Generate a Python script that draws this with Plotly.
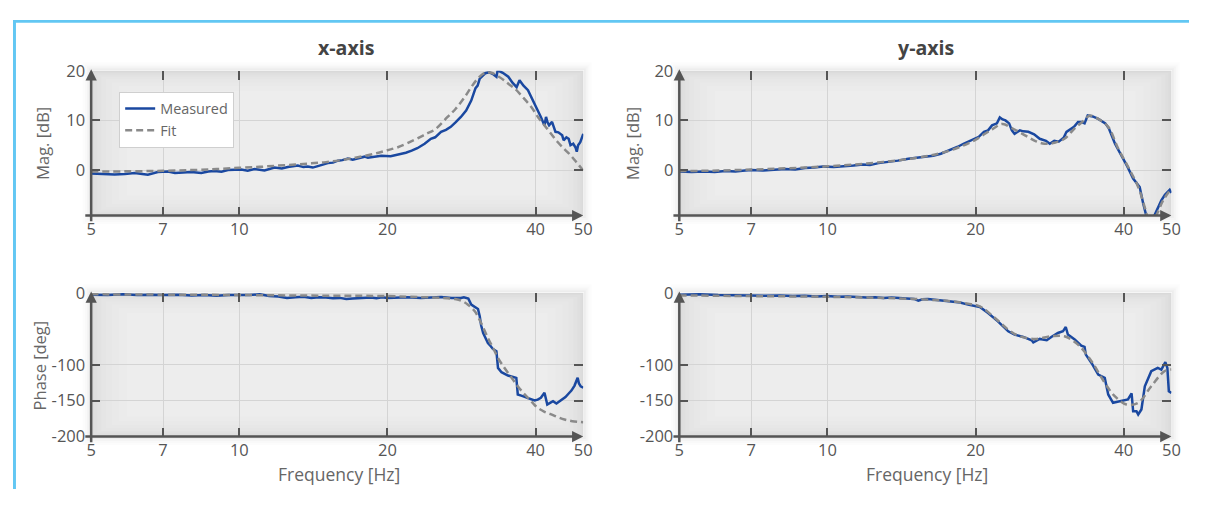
import plotly.graph_objects as go

# ------------------------------------------------------------------ data
FREQ_TICKS = [5, 7, 10, 20, 40, 50]
FREQ_TICK_TEXT = ["5", "7", "10", "20", "40", "50"]
MAG_TICKS = [0, 10, 20]
MAG_TICK_TEXT = ["0", "10", "20"]
PHASE_TICKS = [-200, -150, -100, 0]
PHASE_TICK_TEXT = ["-200", "-150", "-100", "0"]

# x-axis, magnitude [dB]
x_mag_meas_f = [5.0, 5.32, 5.58, 5.85, 6.13, 6.35, 6.52, 6.83, 7.16, 7.4, 7.62, 7.99, 8.37, 8.65,
                8.91, 9.2, 9.48, 10.09, 10.4, 10.74, 11.25, 11.79, 12.2, 12.55, 13.15, 13.5, 13.78,
                14.1, 14.44, 15.13, 15.5, 15.86, 16.2, 16.62, 17.0, 17.41, 17.97, 18.25, 18.54,
                19.0, 19.43, 20.3, 20.8, 21.3, 21.8, 22.4, 23.0, 23.8, 24.5, 25.0, 25.7, 26.3,
                26.9, 27.5, 28.2, 28.9, 29.6, 30.2, 30.5, 30.8, 31.6, 32.2, 32.7, 33.3, 33.5,
                34.3, 35.2, 35.9, 36.6, 37.1, 37.8, 38.6, 39.2, 39.8, 40.4, 41.0, 41.7, 42.0,
                42.3, 42.6, 43.2, 43.9, 44.5, 45.0, 45.3, 45.6, 46.2, 46.7, 47.1, 47.7, 48.2,
                48.5, 48.8, 49.3, 50.0]
x_mag_meas = [-0.7, -0.8, -0.9, -0.8, -0.6, -0.8, -0.95, -0.4, -0.3, -0.6, -0.5, -0.4, -0.6, -0.3,
              -0.2, -0.35, 0.0, 0.1, -0.15, 0.2, -0.1, 0.5, 0.3, 0.6, 0.9, 0.6, 0.7,
              0.5, 0.8, 1.4, 1.5, 1.9, 2.0, 2.3, 2.1, 2.4, 2.7, 2.5, 2.6,
              2.8, 2.9, 2.8, 3.0, 3.2, 3.5, 3.9, 4.4, 5.3, 6.3, 6.6, 7.7, 8.1,
              8.7, 9.6, 10.7, 12.0, 14.0, 16.5, 17.0, 18.4, 19.5, 19.7, 19.4, 18.8, 20.1,
              19.6, 18.8, 17.6, 16.7, 18.1, 17.0, 16.1, 14.8, 13.4, 12.0, 10.7, 9.0, 10.7,
              9.6, 9.0, 9.7, 7.7, 7.6, 7.2, 7.0, 6.0, 6.6, 6.3, 5.0, 5.3, 4.6,
              3.7, 5.0, 5.6, 7.3]
x_mag_fit_f = [5, 6, 7, 8, 9, 10, 11, 12, 13, 14, 15, 16, 17, 18, 19, 20, 21, 22.7, 24, 25, 26.5,
               27.5, 28.7, 29.6, 30.5, 31.2, 31.8, 32.5, 33.3, 34.5, 35.3, 36.3, 37.5, 39.2, 40.5,
               41.7, 43, 44.3, 45.7, 47.1, 48.5, 50]
x_mag_fit = [-0.3, -0.25, -0.15, 0.0, 0.2, 0.45, 0.65, 0.9, 1.1, 1.35, 1.6, 1.95, 2.4, 2.85, 3.4,
             4.0, 4.6, 6.1, 7.3, 8.2, 10.7, 12.3, 14.7, 16.7, 18.4, 19.3, 19.7, 19.6, 19.1, 18.1,
             17.3, 16.4, 14.9, 12.7, 10.6, 9.0, 7.3, 5.7, 4.3, 3.0, 1.5, -0.1]

# y-axis, magnitude [dB]
y_mag_meas_f = [5.0, 5.3, 5.6, 5.9, 6.2, 6.5, 6.8, 7.0, 7.4, 7.8, 8.2, 8.6, 9.0, 9.4, 9.8, 10.3,
                10.8, 11.3, 11.8, 12.2, 12.7, 13.3, 13.9, 14.6, 15.2, 15.8, 16.4, 17.0, 17.4,
                17.9, 18.4, 18.9, 19.3, 19.8, 20.3, 20.8, 21.2, 21.6, 22.1, 22.4, 22.7, 23.0,
                23.4, 23.7, 24.0, 24.6, 25.0, 25.6, 26.3, 27.0, 27.8, 28.3, 28.9, 29.5, 30.2,
                30.6, 31.7, 32.3, 32.8, 33.3, 33.8, 34.6, 35.5, 36.7, 37.3, 38.4, 39.6, 40.7,
                41.8, 43.1, 43.8, 44.5, 45.2, 46.2, 47.7, 48.5, 49.2, 49.6, 50.0]
y_mag_meas = [-0.3, -0.4, -0.3, -0.4, -0.2, -0.3, -0.1, 0.0, -0.1, 0.1, 0.2, 0.1, 0.4, 0.5, 0.7, 0.6,
              0.7, 0.9, 1.1, 1.0, 1.4, 1.6, 1.9, 2.3, 2.5, 2.6, 2.9, 3.3, 3.7,
              4.1, 4.7, 5.3, 5.7, 6.1, 6.7, 7.7, 8.0, 9.0, 9.4, 10.6, 10.2, 10.0,
              9.4, 8.0, 7.3, 8.0, 7.8, 7.7, 7.2, 6.3, 5.9, 5.3, 5.9, 5.7, 6.5,
              7.7, 8.7, 9.7, 9.7, 9.4, 11.0, 10.8, 10.3, 9.4, 8.4, 5.3, 3.0, 0.7,
              -1.7, -3.4, -6.7, -9.1, -12.0, -9.1, -6.1, -5.0, -4.4, -4.0, -4.6]
y_mag_fit_f = [5, 6, 7, 8, 9, 10, 11, 12, 13, 14, 15, 16, 17, 18.4, 19.9, 21.6, 22.7, 23.65, 25.2,
               26.4, 27.6, 28.95, 30.3, 31.8, 33.3, 34.1, 35.5, 37.2, 38.95, 40.8, 42.8, 44.1,
               44.8, 45.3, 46.6, 48.1, 50]
y_mag_fit = [-0.2, -0.1, 0.1, 0.3, 0.5, 0.75, 1.0, 1.3, 1.65, 2.0, 2.4, 2.85, 3.4, 4.5, 6.0, 8.2,
             9.3, 8.5, 7.0, 5.9, 5.3, 5.5, 6.3, 8.4, 10.1, 11.0, 10.3, 8.7, 4.4, 0.7, -3.4, -7.4,
             -9.8, -11.0, -9.1, -6.1, -3.7]

# x-axis, phase [deg]
x_ph_meas_f = [5.0, 5.4, 5.8, 6.2, 6.6, 7.0, 7.5, 8.0, 8.5, 9.0, 9.5, 10.0, 10.5, 11.0, 11.5, 12.0,
               12.5, 13.0, 13.5, 14.0, 14.5, 15.0, 15.5, 16.0, 16.5, 17.0, 17.5, 18.0, 18.5, 19.0,
               19.5, 20.0, 21.0, 22.0, 23.4, 24.5, 25.7, 27.0, 28.2, 28.6, 29.2, 29.6, 30.2,
               30.55, 30.8, 31.0, 31.3, 31.6, 32.0, 32.4, 32.75, 33.3, 33.4, 33.55, 34.1, 35.15,
               36.0, 36.55, 36.7, 36.8, 37.4, 38.0, 38.9, 39.8, 40.4, 41.0, 41.7, 42.0, 42.25,
               42.8, 43.4, 44.1, 44.7, 45.4, 46.0, 46.7, 47.3, 48.0, 48.3, 48.7, 49.0, 49.4, 50.0]
x_ph_meas = [-2.5, -3, -2, -3, -2.5, -3, -2.5, -3.5, -3, -4, -3, -3.5, -3, -2, -4.5, -5,
             -7, -6, -5.5, -7, -6, -6.5, -7.5, -7, -8.5, -8, -7.5, -7, -6.5, -7.5,
             -6, -7, -6.5, -6, -7.2, -6.5, -5.8, -7, -7.2, -6.2, -8, -16.4, -20,
             -22.5, -32.6, -45, -55.8, -63, -69.7, -74, -78, -81.3, -95, -104.4, -110.4, -115,
             -117, -118.3, -132, -141.4, -143, -144.7, -147, -149.8, -148.5, -146, -139, -148, -155.3,
             -153, -150.7, -154, -151, -148, -145, -140, -136, -129, -125, -118, -126, -130, -132]
x_ph_fit_f = [5, 7, 10, 15, 20, 23.4, 26, 27.4, 28.3, 29.15, 30.1, 31.0, 32.0, 32.8, 33.55, 34.3,
              35.15, 36.0, 36.8, 37.7, 38.6, 39.5, 40.4, 41.7, 43.05, 44.4, 45.8, 47.5, 50]
x_ph_fit = [-2, -2.5, -3, -4, -4.5, -6, -7, -8.6, -11, -16.4, -25.7, -41.9, -62.7, -77, -90.5, -101,
            -111.3, -121, -129.9, -138.5, -146, -153.5, -160, -165.5, -169.2, -173, -176.2, -178.5,
            -179.9]

# y-axis, phase [deg]
y_ph_meas_f = [5.0, 5.5, 6.0, 6.5, 7.0, 7.5, 8.0, 8.5, 9.0, 9.5, 10.0, 10.5, 11.0, 11.5, 12.0, 12.5,
               13.0, 13.5, 14.0, 14.5, 15.0, 15.3, 15.6, 16.0, 16.5, 17.0, 17.5, 17.9, 18.6, 19.3,
               20.4, 21.2, 22.2, 23.3, 24.0, 25.0, 26.0, 26.2, 27.0, 27.9, 28.5, 29.4, 30.1, 30.5,
               30.8, 31.8, 32.8, 33.3, 33.5, 34.4, 35.5, 36.6, 37.2, 38.05, 39.6, 40.8, 41.5, 41.8,
               42.45, 42.8, 43.45, 44.15, 45.5, 46.9, 47.7, 48.6, 49.06, 49.4, 50.0]
y_ph_meas = [-2.5, -2, -3, -3.5, -3, -4, -3.5, -4.5, -4, -5, -4.5, -5.5, -5, -6, -6.5, -6,
             -7, -6.5, -7.5, -8, -8.5, -11, -9, -8.5, -9.5, -10, -11, -11.8, -13.5, -16.4,
             -19.7, -28, -39.6, -53.5, -58.1, -61.3, -66, -68.8, -64.1, -66, -61.3, -55.8, -53.5, -47.5,
             -58.1, -65, -73.4, -75.2, -85.9, -97.5, -113.7, -118.3, -141.4, -153, -150.7, -148.4, -140,
             -164.6, -164.6, -169.2, -162.3, -129.9, -109, -104.4, -106.7, -96.5, -104.4, -136.8, -139.1]
y_ph_fit_f = [5, 7, 10, 13, 15, 17, 17.9, 19.3, 20.4, 21.9, 23.3, 24.4, 26.4, 28.5, 30.3, 32.3, 34.4,
              36.6, 38.35, 40.5, 42.8, 45.5, 48.4, 50]
y_ph_fit = [-3.5, -4.5, -5.5, -7, -8.5, -10.5, -11.8, -15, -18.75, -35, -51.2, -59.5, -64.1, -60.4,
            -60.4, -72, -95.1, -125.2, -143.75, -155.3, -153, -129.9, -109, -106.7]

# ------------------------------------------------------------------ style
# Figure sits inside the page's 8 px body margin; positions below are given in
# target-picture pixels and mapped to the page through the observed capture
# offset/scale (about 4 px / 10.5 px offset, 0.988 / 0.955 scale).
OFF = 8
W, H = 1190, 492
CAP_X0, CAP_SX = 3.95, 0.988
CAP_Y0, CAP_SY = 10.5, 0.955
FONT = "Open Sans"
BLUE = "#1a48a0"
GREY = "#8a8a8a"
AX = "#555555"
FS = 1.03  # font compensation for the capture scale
# plot boxes in target pixels (left, right, top, bottom)
BOX = {
    "1": (90, 582, 69, 214),
    "2": (678, 1170, 69, 214),
    "3": (90, 582, 291.5, 435.5),
    "4": (678, 1170, 291.5, 435.5),
}


def fx(x):  # target picture x -> figure pixel x
    return (x - CAP_X0) / CAP_SX - OFF


def fy(y):  # target picture y -> figure pixel y
    return (y - CAP_Y0) / CAP_SY - OFF


def px(x):
    return fx(x) / W


def py(y):
    return 1 - fy(y) / H


fig = go.Figure()

panels = [
    ("1", x_mag_meas_f, x_mag_meas, x_mag_fit_f, x_mag_fit, True),
    ("2", y_mag_meas_f, y_mag_meas, y_mag_fit_f, y_mag_fit, False),
    ("3", x_ph_meas_f, x_ph_meas, x_ph_fit_f, x_ph_fit, False),
    ("4", y_ph_meas_f, y_ph_meas, y_ph_fit_f, y_ph_fit, False),
]
for k, mf, mv, ff, fv, leg in panels:
    xa = "x" if k == "1" else "x" + k
    ya = "y" if k == "1" else "y" + k
    fig.add_trace(go.Scatter(x=mf, y=mv, mode="lines", name="Measured", showlegend=leg,
                             line=dict(color=BLUE, width=2.5), xaxis=xa, yaxis=ya))
    fig.add_trace(go.Scatter(x=ff, y=fv, mode="lines", name="Fit", showlegend=leg,
                             line=dict(color=GREY, width=2.5, dash="7px,4px"),
                             line_shape="spline", xaxis=xa, yaxis=ya))

axis_common = dict(showgrid=True, gridcolor="#d4d4d4", gridwidth=1, zeroline=False,
                   showline=False, ticks="inside", ticklen=9, tickwidth=2, tickcolor=AX,
                   mirror="ticks", tickfont=dict(family=FONT, size=16 * FS, color="#555555"),
                   tickmode="array", fixedrange=True)

layout = dict(width=W, height=H, margin=dict(l=0, r=0, t=0, b=0), autosize=False,
              paper_bgcolor="white", plot_bgcolor="#d9d9d9", showlegend=True,
              font=dict(family=FONT, color="#666666"))
for k, b in BOX.items():
    xn = "xaxis" if k == "1" else "xaxis" + k
    yn = "yaxis" if k == "1" else "yaxis" + k
    ya = "y" if k == "1" else "y" + k
    xa = "x" if k == "1" else "x" + k
    layout[xn] = dict(axis_common, type="log", range=[0.69897, 1.69897],
                      domain=[px(b[0]), px(b[1])], anchor=ya,
                      tickvals=FREQ_TICKS, ticktext=FREQ_TICK_TEXT, ticklabelstandoff=2)
    ydom = [py(b[3]), py(b[2])]
    if k in ("1", "2"):
        layout[yn] = dict(axis_common, range=[-9.15, 20], domain=ydom, anchor=xa,
                          tickvals=MAG_TICKS, ticktext=MAG_TICK_TEXT, ticklabelstandoff=5)
    else:
        layout[yn] = dict(axis_common, range=[-200, 0], domain=ydom, anchor=xa,
                          tickvals=PHASE_TICKS, ticktext=PHASE_TICK_TEXT, ticklabelstandoff=5)

layout["legend"] = dict(x=px(118), y=py(90), xanchor="left", yanchor="top",
                        bgcolor="white", bordercolor="#cfcfcf", borderwidth=1,
                        font=dict(family=FONT, size=14 * FS, color="#666666"),
                        itemwidth=30, tracegroupgap=0)
fig.update_layout(**layout)

# background vignette + shadow + axis arrows
VIG_X = [1, 3, 6, 10, 15, 21, 28, 36]
VIG_Y = [1, 2, 4, 6, 9, 12, 16, 21]
shapes = []
annotations = []
for k, b in BOX.items():
    xa = "x" if k == "1" else "x" + k
    ya = "y" if k == "1" else "y" + k
    pw = fx(b[1]) - fx(b[0])
    ph = fy(b[3]) - fy(b[2])
    for vx, vy in zip(VIG_X, VIG_Y):
        shapes.append(dict(type="rect", xref=xa + " domain", yref=ya + " domain",
                           x0=vx / pw, x1=1 - vx / pw, y0=vy / ph, y1=1 - vy / ph,
                           fillcolor="rgba(255,255,255,0.1)", line=dict(width=0), layer="below"))
    for d, a in [(1.5, 0.07), (3.5, 0.045), (5.5, 0.025), (7.5, 0.012)]:
        shapes.append(dict(type="rect", xref="paper", yref="paper",
                           x0=px(b[0] - d), x1=px(b[1] + d),
                           y0=py(b[3] + d), y1=py(b[2] - d),
                           fillcolor="rgba(0,0,0,0)", line=dict(width=2, color=f"rgba(0,0,0,{a})"),
                           layer="below"))
    # y axis line with arrow
    annotations.append(dict(xref=xa + " domain", yref=ya + " domain", x=0, y=1.01, ax=0,
                            ay=ph + 1.5, text="", showarrow=True, arrowhead=2, arrowsize=0.9,
                            arrowwidth=2.5, arrowcolor=AX))
    # x axis line with arrow
    annotations.append(dict(xref=xa + " domain", yref=ya + " domain", x=1.0, y=0, ax=-(pw + 1.5),
                            ay=0, text="", showarrow=True, arrowhead=2, arrowsize=0.9,
                            arrowwidth=2.5, arrowcolor=AX))

# light-blue frame (top & left), as close to the window edge as the page allows
shapes.append(dict(type="rect", xref="paper", yref="paper", x0=0, x1=1, y0=1 - 3 / H, y1=1,
                   fillcolor="#62c7f3", line=dict(width=0), layer="above"))
shapes.append(dict(type="rect", xref="paper", yref="paper", x0=0, x1=3 / W, y0=0, y1=1,
                   fillcolor="#62c7f3", line=dict(width=0), layer="above"))


# texts
def txt(s, x, y, size, color, angle=0):
    return dict(xref="paper", yref="paper", x=px(x), y=py(y), text=s, showarrow=False,
                textangle=angle, xanchor="center", yanchor="middle",
                font=dict(family=FONT, size=size * FS, color=color))


annotations += [
    txt("<b>x-axis</b>", 345, 46, 19, "#444444"),
    txt("<b>y-axis</b>", 925, 46, 19, "#444444"),
    txt("Mag. [dB]", 41, 142, 16, "#666666", -90),
    txt("Mag. [dB]", 631, 142, 16, "#666666", -90),
    txt("Phase [deg]", 38, 364, 16, "#666666", -90),
    txt("Frequency [Hz]", 338, 473, 17, "#666666"),
    txt("Frequency [Hz]", 926, 473, 17, "#666666"),
]

fig.update_layout(shapes=shapes, annotations=annotations)
fig.write_html("out.html", config={"displayModeBar": False})
